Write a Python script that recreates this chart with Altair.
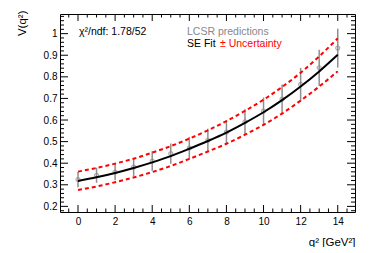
import altair as alt
import pandas as pd

# ---------------- data ----------------
q2 = [0, 1, 2, 3, 4, 5, 6, 7, 8, 9, 10, 11, 12, 13, 14]
lcsr = [0.324, 0.344, 0.359, 0.382, 0.410, 0.444, 0.470, 0.506, 0.544, 0.592,
        0.641, 0.697, 0.765, 0.842, 0.933]
lcsr_err = [0.035, 0.035, 0.038, 0.043, 0.045, 0.047, 0.052, 0.054, 0.055, 0.058,
            0.063, 0.068, 0.076, 0.083, 0.090]
fit = [0.318, 0.335, 0.355, 0.378, 0.404, 0.433, 0.467, 0.503, 0.542, 0.587,
       0.636, 0.692, 0.755, 0.825, 0.902]
fit_up = [0.361, 0.378, 0.398, 0.421, 0.449, 0.479, 0.514, 0.552, 0.595, 0.642,
          0.694, 0.753, 0.819, 0.895, 0.978]
fit_lo = [0.276, 0.292, 0.312, 0.334, 0.359, 0.387, 0.420, 0.454, 0.490, 0.532,
          0.578, 0.630, 0.690, 0.755, 0.826]

x_major = [0, 2, 4, 6, 8, 10, 12, 14]
x_minor = [-0.5, 0.5, 1, 1.5, 2.5, 3, 3.5, 4.5, 5, 5.5, 6.5, 7, 7.5, 8.5, 9, 9.5,
           10.5, 11, 11.5, 12.5, 13, 13.5, 14.5]
y_major = [0.2, 0.3, 0.4, 0.5, 0.6, 0.7, 0.8, 0.9, 1.0]
y_minor = [round(0.18 + 0.02 * i, 2) for i in range(46) if i % 5 != 1]

chi_text = "χ²/ndf: 1.78/52"
legend_pred = "LCSR predictions"
legend_fit = "SE Fit"
legend_unc = "± Uncertainty"
x_title = "q² [GeV²]"
y_title = "V(q²)"

# ---------------- layout ----------------
W, H = 295, 198
FONT = "Liberation Sans"
xs = alt.Scale(domain=[-0.97, 14.93], nice=False, zero=False)
ys = alt.Scale(domain=[0.174, 1.091], nice=False, zero=False)

xaxis = alt.Axis(values=x_major, format="~g", title=x_title, ticks=False, domain=False,
                 grid=False, labelFont=FONT, labelFontSize=10, labelPadding=4,
                 labelColor="black", titleFont=FONT, titleFontSize=11.5,
                 titleFontWeight="normal", titleColor="black", titleAnchor="end",
                 titleAlign="right", titleX=W, titleY=33.5, titleBaseline="alphabetic")
yaxis = alt.Axis(values=y_major, format="~g", title=y_title, ticks=False, domain=False,
                 grid=False, labelFont=FONT, labelFontSize=10, labelPadding=3,
                 labelColor="black", titleFont=FONT, titleFontSize=11.5,
                 titleFontWeight="normal", titleColor="black", titleAngle=270,
                 titleAlign="right", titleBaseline="middle", titleX=-38, titleY=-4)


def X(f):
    return alt.X(f, type="quantitative", scale=xs, axis=xaxis)


def Y(f):
    return alt.Y(f, type="quantitative", scale=ys, axis=yaxis)


pts = pd.DataFrame({"x": q2, "y": lcsr,
                    "lo": [v - e for v, e in zip(lcsr, lcsr_err)],
                    "hi": [v + e for v, e in zip(lcsr, lcsr_err)]})
fit_df = pd.DataFrame({"x": q2, "y": fit})
up_df = pd.DataFrame({"x": q2, "y": fit_up})
lo_df = pd.DataFrame({"x": q2, "y": fit_lo})

errbars = alt.Chart(pts).mark_rule(color="#8f8f8f", strokeWidth=1.5).encode(
    x=X("x"), y=Y("lo"), y2=alt.Y2("hi"))
points = alt.Chart(pts).mark_point(shape="circle", filled=False, size=16,
                                   strokeWidth=1.2, color="#8a8a8a").encode(x=X("x"), y=Y("y"))
band_up = alt.Chart(up_df).mark_line(color="#ff0000", strokeWidth=2, strokeDash=[4, 3],
                                     interpolate="monotone").encode(x=X("x"), y=Y("y"))
band_lo = alt.Chart(lo_df).mark_line(color="#ff0000", strokeWidth=2, strokeDash=[4, 3],
                                     interpolate="monotone").encode(x=X("x"), y=Y("y"))
fit_line = alt.Chart(fit_df).mark_line(color="black", strokeWidth=2,
                                       interpolate="monotone").encode(x=X("x"), y=Y("y"))

# inward ROOT-style ticks
xM = pd.DataFrame({"x": x_major})
xm = pd.DataFrame({"x": x_minor})
yM = pd.DataFrame({"y": y_major})
ym = pd.DataFrame({"y": y_minor})
TK = dict(color="black", strokeWidth=1)
ticks = [
    alt.Chart(xM).mark_rule(**TK).encode(x=X("x"), y=alt.value(H), y2=alt.value(H - 7)),
    alt.Chart(xm).mark_rule(**TK).encode(x=X("x"), y=alt.value(H), y2=alt.value(H - 3.5)),
    alt.Chart(xM).mark_rule(**TK).encode(x=X("x"), y=alt.value(0), y2=alt.value(7)),
    alt.Chart(xm).mark_rule(**TK).encode(x=X("x"), y=alt.value(0), y2=alt.value(3.5)),
    alt.Chart(yM).mark_rule(**TK).encode(y=Y("y"), x=alt.value(0), x2=alt.value(8)),
    alt.Chart(ym).mark_rule(**TK).encode(y=Y("y"), x=alt.value(0), x2=alt.value(4)),
    alt.Chart(yM).mark_rule(**TK).encode(y=Y("y"), x=alt.value(W), x2=alt.value(W - 8)),
    alt.Chart(ym).mark_rule(**TK).encode(y=Y("y"), x=alt.value(W), x2=alt.value(W - 4)),
]


def label(txt, px, py, color):
    return alt.Chart(pd.DataFrame({"t": [txt]})).mark_text(
        align="left", baseline="alphabetic", font=FONT, fontSize=10.5, color=color
    ).encode(text="t:N", x=alt.value(px), y=alt.value(py))


texts = [
    label(chi_text, 19, 21, "black"),
    label(legend_pred, 127, 21, "#888888"),
    label(legend_fit, 127, 33, "black"),
    label(legend_unc, 160, 33, "#ff0000"),
]

chart = alt.layer(errbars, points, band_up, band_lo, fit_line, *ticks, *texts).properties(
    width=W, height=H, autosize="none",
    padding={"left": 52, "top": 6, "right": 11, "bottom": 35},
).configure_view(stroke="black", strokeWidth=1)

chart.save("out.html", embed_options={"renderer": "svg", "actions": False})
